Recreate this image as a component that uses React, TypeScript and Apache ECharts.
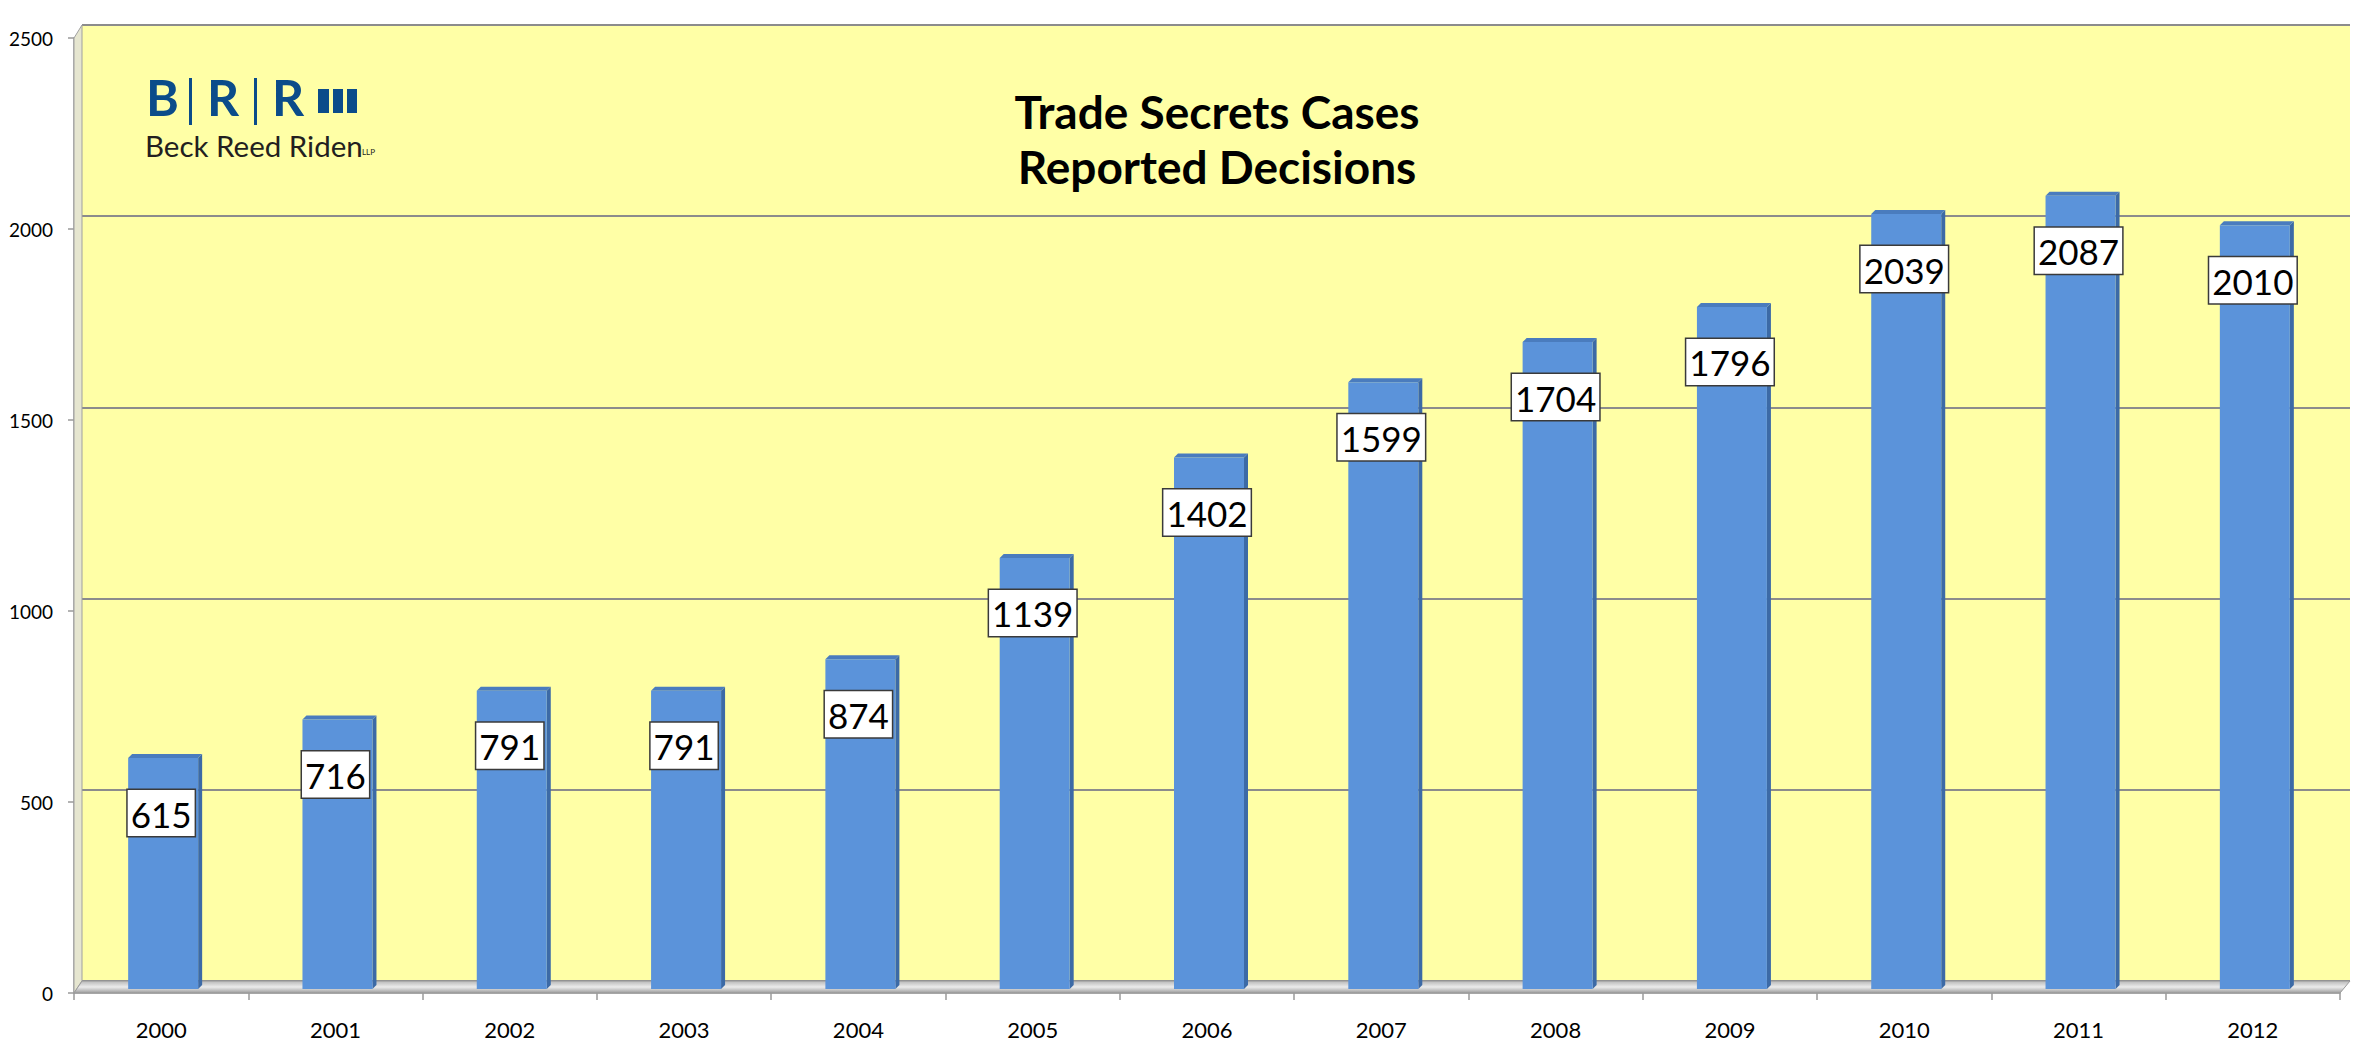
import React, { useEffect, useRef } from "react";
import * as echarts from "echarts";

const years = ["2000", "2001", "2002", "2003", "2004", "2005", "2006", "2007", "2008", "2009", "2010", "2011", "2012"];
const decisions = [615, 716, 791, 791, 874, 1139, 1402, 1599, 1704, 1796, 2039, 2087, 2010];
const yTicks = { min: 0, max: 2500, interval: 500 };
const titleLines = ["Trade Secrets Cases", "Reported Decisions"];

const FONT = "Lato, 'Open Sans', sans-serif";

export default function App() {
  const ref = useRef<HTMLDivElement>(null);

  useEffect(() => {
    document.body.style.margin = "0";
    const chart = echarts.init(ref.current!, undefined, { renderer: "svg" });
    const W = 2368;
    const H = 1052;
    // front plane
    const fL = 74, fR = 2340, fT = 38, fB = 993;
    // back wall
    const bL = 82, bR = 2350, bT = 25, bB = 981;
    const blue = "#0B4C8A";

    const option: any = {
      animation: false,
      backgroundColor: "#ffffff",
      title: {
        text: titleLines.join("\n"),
        left: 1212,
        top: 79,
        textAlign: "center",
        textStyle: {
          fontFamily: FONT,
          fontSize: 46,
          fontWeight: "bold",
          color: "#000",
          lineHeight: 55,
        },
      },
      grid: [
        {
          left: bL, right: W - bR, top: bT, bottom: H - bB,
          show: true, backgroundColor: "#FFFFA6", borderWidth: 0, z: 0,
        },
        {
          left: fL, right: W - fR, top: fT, bottom: H - fB,
          show: false,
        },
      ],
      xAxis: [
        { type: "category", gridIndex: 0, data: years, show: false },
        {
          type: "category",
          gridIndex: 1,
          data: years,
          axisLine: { lineStyle: { color: "#9a9a9a", width: 1.5 } },
          axisTick: { show: true, length: 7, lineStyle: { color: "#9a9a9a", width: 1.5 } },
          axisLabel: { color: "#000", fontFamily: FONT, fontSize: 22, margin: 25 },
        },
      ],
      yAxis: [
        {
          type: "value", gridIndex: 0, ...yTicks,
          axisLabel: { show: false }, axisLine: { show: false }, axisTick: { show: false },
          splitLine: { show: true, lineStyle: { color: "#8c8c8c", width: 2 } },
        },
        {
          type: "value", gridIndex: 1, ...yTicks,
          axisLine: { show: true, lineStyle: { color: "#9a9a9a", width: 1.5 } },
          axisTick: { show: true, length: 6, lineStyle: { color: "#9a9a9a", width: 1.5 } },
          splitLine: { show: false },
          axisLabel: {
            color: "#000", fontFamily: FONT, fontSize: 19, margin: 21,
            formatter: (v: number) => String(v),
          },
        },
      ],
      graphic: [
        {
          type: "polygon", z: 1,
          shape: { points: [[fL, fT], [bL, bT], [bL, bB], [fL, fB]] },
          style: { fill: "#E6E6D0", stroke: "#a0a0a0", lineWidth: 1 },
        },
        {
          type: "polygon", z: 1,
          shape: { points: [[fL, fB], [bL, bB], [bR, bB], [fR, fB]] },
          style: {
            fill: new echarts.graphic.LinearGradient(0, 0, 0, 1, [
              { offset: 0, color: "#b8b8b8" },
              { offset: 0.5, color: "#ececec" },
              { offset: 1, color: "#9c9c9c" },
            ]),
            stroke: "#9a9a9a", lineWidth: 1,
          },
        },
        // logo
        {
          type: "group", z: 5,
          children: [
            { type: "text", x: 146, y: 97, style: { text: "B", font: `bold 50px ${FONT}`, fill: blue, verticalAlign: "middle", lineHeight: 36 } },
            { type: "rect", shape: { x: 189, y: 78, width: 3, height: 47 }, style: { fill: blue } },
            { type: "text", x: 207, y: 97, style: { text: "R", font: `bold 50px ${FONT}`, fill: blue, verticalAlign: "middle", lineHeight: 36 } },
            { type: "rect", shape: { x: 254, y: 78, width: 3, height: 47 }, style: { fill: blue } },
            { type: "text", x: 272, y: 97, style: { text: "R", font: `bold 50px ${FONT}`, fill: blue, verticalAlign: "middle", lineHeight: 36 } },
            { type: "rect", shape: { x: 318, y: 89, width: 11, height: 24 }, style: { fill: blue } },
            { type: "rect", shape: { x: 333, y: 89, width: 10, height: 24 }, style: { fill: blue } },
            { type: "rect", shape: { x: 347, y: 89, width: 10, height: 24 }, style: { fill: blue } },
            { type: "text", x: 145, y: 145, style: { text: "Beck Reed Riden", font: `29.5px ${FONT}`, fill: "#231F20", verticalAlign: "middle", lineHeight: 26 } },
            { type: "text", x: 362, y: 152, style: { text: "LLP", font: `8px ${FONT}`, fill: "#231F20", verticalAlign: "middle", lineHeight: 8 } },
          ],
        },
      ],
      series: [
        {
          type: "custom",
          xAxisIndex: 1,
          yAxisIndex: 1,
          z: 3,
          data: decisions.map((v, i) => [i, v]),
          encode: { x: 0, y: 1 },
          renderItem: (params: any, api: any) => {
            const idx = api.value(0);
            const v = api.value(1);
            const top = api.coord([idx, v]);
            const base = api.coord([idx, 0]);
            const w = 70;
            const d = 4;
            const x0 = top[0] - w / 2 + 2;
            const yT = top[1];
            const yB = base[1] - 4;
            return {
              type: "group",
              children: [
                {
                  type: "polygon",
                  shape: { points: [[x0 + w, yT], [x0 + w + d, yT - d], [x0 + w + d, yB - d], [x0 + w, yB]] },
                  style: { fill: "#3C6AA6" },
                },
                {
                  type: "polygon",
                  shape: { points: [[x0, yT], [x0 + d, yT - d], [x0 + w + d, yT - d], [x0 + w, yT]] },
                  style: { fill: "#4A7CBE" },
                },
                {
                  type: "rect",
                  shape: { x: x0, y: yT, width: w, height: yB - yT },
                  style: { fill: "#5B93DA" },
                },
                {
                  type: "text",
                  x: top[0],
                  y: yT + 32,
                  z2: 10,
                  style: {
                    text: String(v),
                    font: `35px ${FONT}`,
                    fill: "#000",
                    align: "center",
                    verticalAlign: "top",
                    backgroundColor: "#ffffff",
                    borderColor: "#3a3a3a",
                    borderWidth: 1.5,
                    padding: [4, 3, 3, 3],
                    lineHeight: 39,
                  },
                },
              ],
            };
          },
        },
      ],
    };
    chart.setOption(option);
    return () => chart.dispose();
  }, []);

  return (
    <div
      ref={ref}
      style={{ position: "absolute", left: 0, top: 0, width: 2368, height: 1052 }}
    />
  );
}
